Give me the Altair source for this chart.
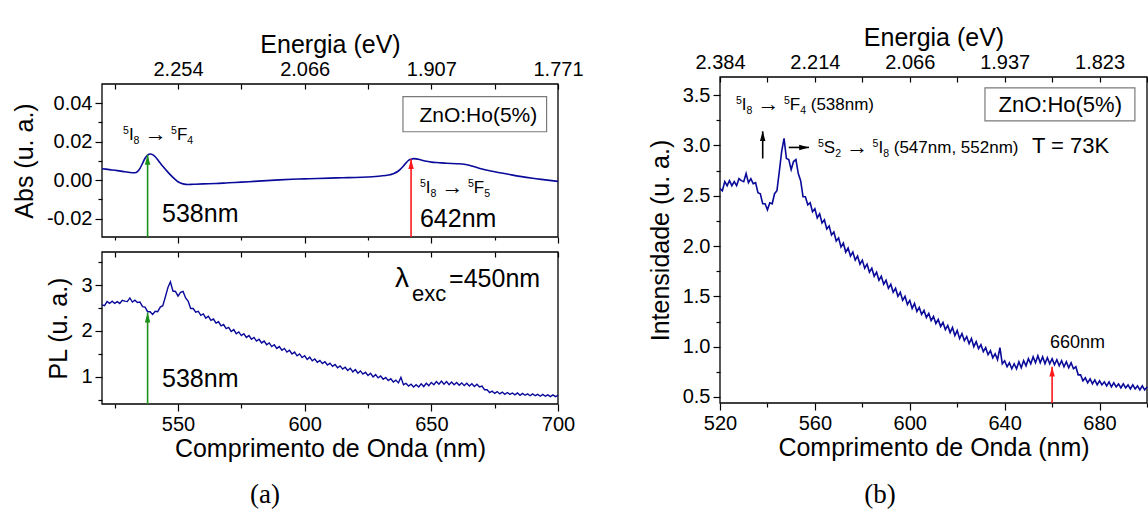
import json

import altair as alt
import pandas as pd

FONT = "Liberation Sans"
SERIF = "Liberation Serif"
BLUE = "#0a0a9a"
GREEN = "#1a8f1a"
RED = "#ff1a1a"

# ---------------- spectra ----------------
# PL spectrum of ZnO:Ho(5%) (1 nm steps, 520-700 nm)
pl_nm = list(range(520, 701))
pl_val = [
    2.57, 2.55, 2.64, 2.60, 2.65, 2.60, 2.64, 2.60, 2.67, 2.65,
    2.64, 2.72, 2.63, 2.67, 2.62, 2.63, 2.53, 2.52, 2.42, 2.42,
    2.36, 2.43, 2.42, 2.52, 2.55, 2.74, 2.94, 3.07, 2.87, 2.86,
    2.76, 2.84, 2.86, 2.72, 2.65, 2.49, 2.49, 2.41, 2.43, 2.34,
    2.37, 2.28, 2.32, 2.23, 2.26, 2.17, 2.20, 2.11, 2.14, 2.05,
    2.08, 1.99, 2.03, 1.94, 1.98, 1.90, 1.94, 1.86, 1.90, 1.82,
    1.86, 1.78, 1.82, 1.74, 1.78, 1.70, 1.74, 1.66, 1.70, 1.62,
    1.66, 1.58, 1.62, 1.54, 1.58, 1.50, 1.54, 1.46, 1.50, 1.42,
    1.46, 1.38, 1.43, 1.35, 1.39, 1.32, 1.36, 1.29, 1.33, 1.26,
    1.30, 1.23, 1.27, 1.20, 1.24, 1.17, 1.21, 1.14, 1.19, 1.11,
    1.16, 1.08, 1.13, 1.06, 1.10, 1.03, 1.08, 1.00, 1.05, 0.98,
    1.02, 0.95, 0.99, 0.92, 0.96, 0.89, 0.93, 0.87, 0.99, 0.83,
    0.86, 0.80, 0.84, 0.78, 0.83, 0.78, 0.85, 0.79, 0.86, 0.81,
    0.88, 0.83, 0.90, 0.84, 0.91, 0.84, 0.90, 0.83, 0.89, 0.83,
    0.88, 0.82, 0.87, 0.81, 0.86, 0.80, 0.85, 0.79, 0.84, 0.78,
    0.80, 0.72, 0.72, 0.66, 0.69, 0.64, 0.68, 0.63, 0.67, 0.62,
    0.66, 0.62, 0.65, 0.61, 0.65, 0.60, 0.64, 0.60, 0.63, 0.59,
    0.63, 0.59, 0.62, 0.58, 0.62, 0.58, 0.61, 0.57, 0.61, 0.57,
    0.60,
]

# absorbance spectrum
abs_nm = [520, 523, 526, 529, 531, 533, 534, 535, 536, 537,
          538, 539, 540, 541, 542, 543, 544, 546, 548, 550,
          552, 554, 556, 560, 565, 570, 575, 580, 585, 590,
          595, 600, 605, 610, 615, 620, 625, 630, 633, 635,
          637, 639, 640, 641, 642, 643, 644, 646, 648, 650,
          653, 656, 660, 663, 665, 667, 670, 675, 680, 685,
          690, 695, 700]
abs_val = [0.0060, 0.0055, 0.0050, 0.0044, 0.0040, 0.0039, 0.0045, 0.0062, 0.0088, 0.0114,
           0.0131, 0.0136, 0.0133, 0.0122, 0.0106, 0.0089, 0.0072, 0.0042, 0.0015, -0.0008,
           -0.0019, -0.0022, -0.0021, -0.0019, -0.0017, -0.0013, -0.0010, -0.0006, -0.0002, 0.0002,
           0.0005, 0.0007, 0.0009, 0.0011, 0.0013, 0.0014, 0.0017, 0.0022, 0.0027, 0.0034,
           0.0048, 0.0074, 0.0090, 0.0103, 0.0109, 0.0112, 0.0111, 0.0105, 0.0099, 0.0094,
           0.0091, 0.0088, 0.0086, 0.0083, 0.0078, 0.0070, 0.0058, 0.0044, 0.0032, 0.0020,
           0.0010, 0.0002, -0.0006]

# ---------------- ticks and tick labels ----------------
nm_ticks_a = [525, 550, 575, 600, 625, 650, 675, 700]
nm_major_a = [550, 600, 650, 700]
nm_labels_a = ["550", "600", "650", "700"]
ev_labels_a = ["2.254", "2.066", "1.907", "1.771"]

abs_ticks = [-0.02, -0.01, 0.0, 0.01, 0.02, 0.03, 0.04]
abs_major = [-0.02, 0.0, 0.02, 0.04]
abs_labels = ["-0.02", "0.00", "0.02", "0.04"]

pl_ticks = [0.5, 1, 1.5, 2, 2.5, 3, 3.5]
pl_major = [1, 2, 3]
pl_labels = ["1", "2", "3"]

nm_ticks_b = [520, 540, 560, 580, 600, 620, 640, 660, 680, 700]
nm_major_b = [520, 560, 600, 640, 680]
nm_labels_b = ["520", "560", "600", "640", "680"]
ev_labels_b = ["2.384", "2.214", "2.066", "1.937", "1.823"]

int_ticks = [0.5, 0.75, 1.0, 1.25, 1.5, 1.75, 2.0, 2.25, 2.5, 2.75, 3.0, 3.25, 3.5]
int_major = [0.5, 1.0, 1.5, 2.0, 2.5, 3.0, 3.5]
int_labels = ["0.5", "1.0", "1.5", "2.0", "2.5", "3.0", "3.5"]

# ---------------- canvas and panel geometry (pixels) ----------------
W, H = 1148, 516
G_TOP = dict(x=(102, 558), y=(237, 84), xd=(520, 700), yd=(-0.0295, 0.05))
G_BOT = dict(x=(102, 558), y=(404, 252), xd=(520, 700), yd=(0.41, 3.72))
G_B = dict(x=(720, 1147), y=(403, 77), xd=(520, 700), yd=(0.44, 3.68))


def xscale(g):
    return alt.Scale(domain=list(g["xd"]), range=list(g["x"]), nice=False, zero=False)


def yscale(g):
    return alt.Scale(domain=list(g["yd"]), range=list(g["y"]), nice=False, zero=False)


def lab_expr(major, labels):
    m, lab = json.dumps(major), json.dumps(labels)
    return f"indexof({m}, datum.value) >= 0 ? {lab}[indexof({m}, datum.value)] : ''"


def tsize(major, big=7, small=4):
    return {"condition": {"test": f"indexof({json.dumps(major)}, datum.value) >= 0",
                          "value": big}, "value": small}


def ax_left(g, ticks, major, labels, title):
    return alt.Axis(orient="left", offset=-g["x"][0], values=ticks,
                    labelExpr=lab_expr(major, labels), tickSize=tsize(major),
                    domain=False, title=title, titlePadding=9)


def ax_bottom(g, ticks, major, labels, title):
    if labels is None:
        return alt.Axis(orient="bottom", offset=g["y"][0] - H, values=ticks,
                        labels=False, tickSize=tsize(major, 6, 3), domain=False, title=None)
    return alt.Axis(orient="bottom", offset=g["y"][0] - H, values=ticks,
                    labelExpr=lab_expr(major, labels), tickSize=tsize(major),
                    domain=False, title=title, titlePadding=2)


def ax_top(g, ticks, major, labels, title, inward=5):
    if labels is None:
        return alt.Axis(orient="top", offset=-(g["y"][1] + inward), values=ticks,
                        tickSize=inward, labels=False, domain=False, title=None)
    return alt.Axis(orient="top", offset=-(g["y"][1] + inward), values=ticks,
                    tickSize=inward, labelExpr=lab_expr(major, labels), labelPadding=5,
                    domain=False, title=title, titlePadding=2)


def frame_layer(g, top_axis, left_axis):
    df = pd.DataFrame({"x0": [g["xd"][0]], "x1": [g["xd"][1]],
                       "y0": [g["yd"][0]], "y1": [g["yd"][1]]})
    return alt.Chart(df).mark_rect(fillOpacity=0, stroke="black", strokeWidth=1.3).encode(
        x=alt.X("x0:Q", scale=xscale(g), axis=top_axis), x2="x1:Q",
        y=alt.Y("y0:Q", scale=yscale(g), axis=left_axis), y2="y1:Q")


def line_layer(nm, val, g, bottom_axis, width, interp="linear"):
    df = pd.DataFrame({"nm": nm, "v": val})
    return alt.Chart(df).mark_line(color=BLUE, strokeWidth=width, clip=True,
                                   interpolate=interp).encode(
        x=alt.X("nm:Q", scale=xscale(g), axis=bottom_axis),
        y=alt.Y("v:Q", scale=yscale(g), axis=None))


def box_layer(g, x0, x1, y0, y1):
    df = pd.DataFrame({"x0": [x0], "x1": [x1], "y0": [y0], "y1": [y1]})
    return alt.Chart(df).mark_rect(fill="white", stroke="#7a7a7a", strokeWidth=1.2).encode(
        x=alt.X("x0:Q", scale=xscale(g), axis=None), x2="x1:Q",
        y=alt.Y("y0:Q", scale=yscale(g), axis=None), y2="y1:Q")


UP = "M0,0L-0.42,1.5L0.42,1.5Z"
RIGHT = "M0,0L-1.5,-0.42L-1.5,0.42Z"


def arrow_layers(g, vertical, horizontal=()):
    layers = []
    heads = []
    if vertical:
        dv = pd.DataFrame(vertical, columns=["x", "y0", "y1", "c"])
        layers.append(alt.Chart(dv).mark_rule(strokeWidth=1.6).encode(
            x=alt.X("x:Q", scale=xscale(g), axis=None),
            y=alt.Y("y0:Q", scale=yscale(g), axis=None), y2="y1:Q",
            color=alt.Color("c:N", scale=None)))
        heads += [{"hx": r[0], "hy": r[2], "s": UP, "c": r[3]} for r in vertical]
    if horizontal:
        dh = pd.DataFrame(horizontal, columns=["x0", "x1", "y", "c"])
        layers.append(alt.Chart(dh).mark_rule(strokeWidth=1.6).encode(
            x=alt.X("x0:Q", scale=xscale(g), axis=None), x2="x1:Q",
            y=alt.Y("y:Q", scale=yscale(g), axis=None),
            color=alt.Color("c:N", scale=None)))
        heads += [{"hx": r[1], "hy": r[2], "s": RIGHT, "c": r[3]} for r in horizontal]
    layers.append(alt.Chart(pd.DataFrame(heads)).mark_point(filled=True, size=170, opacity=1).encode(
        x=alt.X("hx:Q", scale=xscale(g), axis=None),
        y=alt.Y("hy:Q", scale=yscale(g), axis=None),
        shape=alt.Shape("s:N", scale=None),
        color=alt.Color("c:N", scale=None)))
    return layers


# advance widths (em) of the sans font, used to set sub/superscript runs side by side
CW = {ch: 0.556 for ch in "0123456789"}
CW.update({" ": 0.278, "(": 0.333, ")": 0.333, ",": 0.278, ".": 0.278, "n": 0.556,
           "m": 0.833, "I": 0.278, "F": 0.611, "S": 0.667, "\u2192": 1.0, "e": 0.556,
           "x": 0.5, "c": 0.5, "=": 0.584, "\u03bb": 0.556, "T": 0.611, "K": 0.667,
           "Z": 0.611, "O": 0.778, ":": 0.278, "H": 0.722, "o": 0.556, "%": 0.889})

# relative size and baseline rise (in em of the base size) of each kind of run
RUN = {"n": (1.0, 0.0), "sup": (0.62, 0.36), "sub": (0.62, -0.24), "arr": (1.3, -0.04)}


def rich(g, x, y, size, parts, color="black"):
    kx = (g["x"][1] - g["x"][0]) / (g["xd"][1] - g["xd"][0])
    ky = (g["y"][0] - g["y"][1]) / (g["yd"][1] - g["yd"][0])
    rows, pos = [], 0.0
    for txt, kind in parts:
        scale, rise = RUN[kind]
        fs = size * scale
        core = txt.strip(" ")
        if not core:
            pos += len(txt) * CW[" "] * size
            continue
        pos += (len(txt) - len(txt.lstrip(" "))) * CW[" "] * size
        rows.append({"x": x + pos / kx, "y": y + rise * size / ky, "t": core, "s": fs,
                     "c": color})
        pos += sum(CW.get(ch, 0.556) for ch in core) * fs
        pos += (len(txt) - len(txt.rstrip(" "))) * CW[" "] * size
    return rows


def text_layer(rows, g):
    return alt.Chart(pd.DataFrame(rows)).mark_text(font=FONT, align="left",
                                                   baseline="alphabetic").encode(
        x=alt.X("x:Q", scale=xscale(g), axis=None),
        y=alt.Y("y:Q", scale=yscale(g), axis=None),
        text="t:N", size=alt.Size("s:Q", scale=None), color=alt.Color("c:N", scale=None))


def caption(label, px, py):
    return alt.Chart(pd.DataFrame({"t": [label]})).mark_text(
        font=SERIF, fontSize=27, align="center", baseline="middle", color="black").encode(
        x=alt.value(px), y=alt.value(py), text="t:N")


def trans(a, b, c, d, tail=""):
    return [("5", "sup"), (a, "n"), (b, "sub"), (" ", "n"), ("\u2192", "arr"), (" ", "n"),
            ("5", "sup"), (c, "n"), (d, "sub")] + ([(tail, "n")] if tail else [])


# ---------------- panel (a), absorbance ----------------
top_layers = [
    box_layer(G_TOP, 638.8, 695.5, 0.0252, 0.0434),
    frame_layer(G_TOP, ax_top(G_TOP, nm_ticks_a, nm_major_a, ev_labels_a, "Energia (eV)"),
                ax_left(G_TOP, abs_ticks, abs_major, abs_labels, "Abs (u. a.)")),
    line_layer(abs_nm, abs_val, G_TOP, ax_bottom(G_TOP, nm_ticks_a, nm_major_a, None, None),
               1.6, "monotone"),
    *arrow_layers(G_TOP, [(538, G_TOP["yd"][0], 0.0131, GREEN),
                          (642, G_TOP["yd"][0], 0.0109, RED)]),
    text_layer(
        rich(G_TOP, 528.3, 0.0209, 17, trans("I", "8", "F", "4"))
        + rich(G_TOP, 543.7, -0.0215, 25, [("538nm", "n")])
        + rich(G_TOP, 645.5, -0.0066, 17, trans("I", "8", "F", "5"))
        + rich(G_TOP, 645.5, -0.0241, 25, [("642nm", "n")])
        + rich(G_TOP, 645.3, 0.0305, 21, [("ZnO:Ho(5%)", "n")]),
        G_TOP),
]

# ---------------- panel (a), photoluminescence ----------------
bot_layers = [
    frame_layer(G_BOT, ax_top(G_BOT, nm_ticks_a, nm_major_a, None, None),
                ax_left(G_BOT, pl_ticks, pl_major, pl_labels, "PL (u. a.)")),
    line_layer(pl_nm, pl_val, G_BOT,
               ax_bottom(G_BOT, nm_ticks_a, nm_major_a, nm_labels_a, "Comprimento de Onda (nm)"),
               1.4),
    *arrow_layers(G_BOT, [(538, G_BOT["yd"][0], 2.40, GREEN)]),
    text_layer(
        rich(G_BOT, 635.7, 2.958, 28, [("\u03bb", "n")])
        + rich(G_BOT, 642.4, 2.653, 22, [("exc", "n")])
        + rich(G_BOT, 657.0, 2.958, 25, [("=450nm", "n")])
        + rich(G_BOT, 543.7, 0.78, 25, [("538nm", "n")]),
        G_BOT),
]

# ---------------- panel (b), PL at 73 K ----------------
b_layers = [
    box_layer(G_B, 631.7, 694.9, 3.243, 3.571),
    frame_layer(G_B, ax_top(G_B, nm_ticks_b, nm_major_b, ev_labels_b, "Energia (eV)"),
                ax_left(G_B, int_ticks, int_major, int_labels, "Intensidade (u. a.)")),
    line_layer(pl_nm, pl_val, G_B,
               ax_bottom(G_B, nm_ticks_b, nm_major_b, nm_labels_b, "Comprimento de Onda (nm)"),
               1.6),
    *arrow_layers(G_B, [(660, G_B["yd"][0], 0.80, RED), (538, 2.87, 3.14, "black")],
                  [(549, 557.5, 2.98, "black")]),
    text_layer(
        rich(G_B, 526.7, 3.352, 17, trans("I", "8", "F", "4", " (538nm)"))
        + rich(G_B, 561.3, 2.925, 17, trans("S", "2", "I", "8", " (547nm, 552nm)"))
        + rich(G_B, 651.5, 2.925, 22, [("T = 73K", "n")])
        + rich(G_B, 659.1, 0.987, 18, [("660nm", "n")])
        + rich(G_B, 637.4, 3.330, 22, [("ZnO:Ho(5%)", "n")]),
        G_B),
]

chart = (
    alt.layer(*top_layers, *bot_layers, *b_layers,
              caption("(a)", 265, 495), caption("(b)", 880, 495))
    .resolve_scale(x="independent", y="independent")
    .properties(width=W, height=H, autosize=alt.AutoSizeParams(type="none"), padding=0,
                background="white")
    .configure_view(strokeWidth=0)
    .configure_axis(labelFont=FONT, titleFont=FONT, labelFontSize=20, titleFontSize=25,
                    titleFontWeight="normal", labelColor="black", titleColor="black",
                    tickColor="black", tickWidth=1.2, grid=False, labelFlush=False,
                    labelOverlap=False, labelPadding=3)
)

chart.save("out.html", embed_options={"renderer": "svg", "actions": False})
